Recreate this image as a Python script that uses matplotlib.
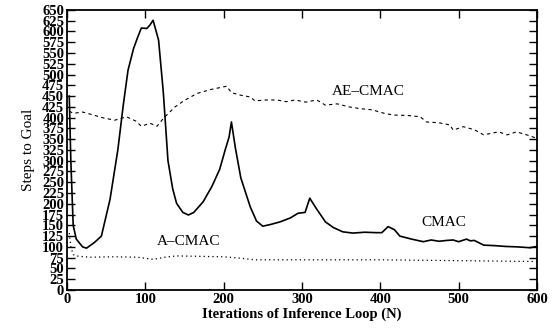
import numpy as np
import matplotlib
matplotlib.use("Agg")
import matplotlib.pyplot as plt

plt.rcParams['font.family'] = ['Liberation Serif', 'DejaVu Serif']

# CMAC (solid)
cmac_x = [3, 5, 8, 12, 20, 25, 35, 44, 55, 65, 72, 78, 85, 90, 95, 102, 106, 110, 117,
          123, 129, 135, 140, 148, 155, 162, 174, 185, 195, 202, 207, 210, 215, 222, 234,
          242, 250, 260, 272, 285, 295, 304, 310, 318, 330, 340, 352, 365, 380, 395, 402,
          410, 418, 425, 440, 455, 465, 475, 485, 493, 500, 510, 515, 520, 532, 545, 560,
          575, 591, 600]
cmac_y = [450, 300, 150, 118, 100, 97, 110, 125, 210, 325, 430, 510, 560, 585, 608, 607,
          615, 626, 580, 460, 300, 235, 201, 180, 174, 180, 205, 240, 280, 325, 355, 390,
          330, 260, 193, 160, 148, 152, 158, 167, 178, 180, 213, 190, 158, 145, 135, 132,
          134, 133, 133, 147, 140, 125, 118, 112, 116, 113, 115, 116, 112, 118, 114, 115,
          104, 103, 101, 100, 98, 101]

# A-CMAC (dotted)
acmac_x = [3, 5, 8, 15, 30, 60, 90, 110, 125, 140, 170, 200, 220, 240, 270, 300, 350,
           400, 450, 500, 550, 600]
acmac_y = [132, 100, 82, 78, 76, 77, 76, 71, 76, 79, 78, 77, 74, 70, 70, 70, 70, 70,
           69, 68, 67, 66]

# AE-CMAC (dashed)
aecmac_x = [3, 8, 20, 34, 45, 61, 76, 88, 95, 106, 115, 123, 138, 150, 166, 183, 204,
            210, 222, 234, 240, 255, 268, 280, 291, 305, 319, 330, 345, 360, 374, 390,
            405, 417, 435, 451, 459, 475, 489, 493, 506, 520, 532, 551, 562, 574, 587,
            600]
aecmac_y = [415, 410, 413, 406, 400, 394, 402, 392, 380, 387, 380, 398, 425, 440, 456,
            465, 473, 458, 452, 448, 439, 441, 441, 437, 441, 436, 441, 429, 432, 425,
            421, 418, 410, 406, 405, 402, 390, 388, 383, 371, 379, 372, 360, 367, 360,
            367, 360, 352]

labels = {"AE\u2013CMAC": (338, 445), "A\u2013CMAC": (115, 97), "CMAC": (453, 141)}

fig = plt.figure(figsize=(5.53, 3.31), dpi=100)
ax = fig.add_axes([0.121, 0.124, 0.850, 0.846])

ax.plot(cmac_x, cmac_y, color='black', lw=1.2, ls='-')
ax.plot(acmac_x, acmac_y, color='black', lw=0.9, ls=(0, (1, 2.5)))
ax.plot(aecmac_x, aecmac_y, color='black', lw=0.8, ls=(0, (3, 3)))

for txt, (x, y) in labels.items():
    ax.text(x, y, txt, fontsize=11, va='bottom', ha='left')

ax.set_xlim(0, 600)
ax.set_ylim(0, 650)
ax.set_xticks(np.arange(0, 601, 100))
ax.set_yticks(np.arange(0, 651, 25))
ax.tick_params(direction='in', top=True, right=True, length=6, width=1,
               labelsize=10.5, pad=2)
for lab in ax.get_xticklabels() + ax.get_yticklabels():
    lab.set_fontweight('bold')
for s in ax.spines.values():
    s.set_linewidth(1.3)

ax.set_xlabel("Iterations of Inference Loop (N)", fontsize=10.5, fontweight='bold', labelpad=1)
ax.set_ylabel("Steps to Goal", fontsize=11, labelpad=5)

fig.savefig("out.png", dpi=100)
